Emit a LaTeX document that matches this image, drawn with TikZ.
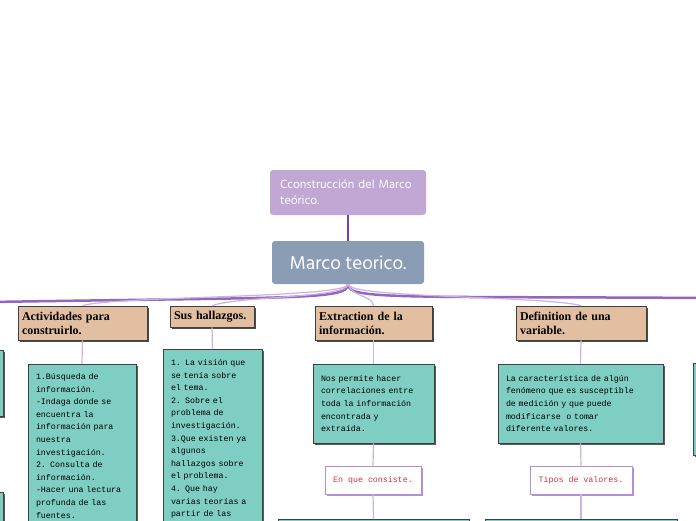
\documentclass[tikz,border=0pt]{standalone}
\usepackage{fontspec}
\usepackage{tikz}
\usetikzlibrary{positioning,shadows}
\newfontfamily\hindfont{Hind Siliguri}
\newfontfamily\notefont{Liberation Mono}
\newfontfamily\catfont{Liberation Serif}
\definecolor{toppurple}{HTML}{C1A7D4}
\definecolor{rootblue}{HTML}{8B9DB5}
\definecolor{cattan}{HTML}{E3BFA1}
\definecolor{infoteal}{HTML}{7FCEC3}
\definecolor{trunkpurple}{HTML}{9466BE}
\definecolor{stempurple}{HTML}{7A3FA6}
\definecolor{twigpurple}{HTML}{CBB3E2}
\definecolor{tagred}{HTML}{CC3348}
\definecolor{tagline}{HTML}{B48ED6}

\begin{document}
\begin{tikzpicture}[
    x=1pt, y=-1pt,
    topbox/.style={
        fill=toppurple,
        rounded corners=3pt,
        minimum width=156pt,
        minimum height=45pt,
        inner xsep=10pt,
        text width=136pt,
        align=left,
        text=white,
        font=\hindfont\fontsize{12.2}{16}\selectfont
    },
    rootbox/.style={
        fill=rootblue,
        rounded corners=3pt,
        minimum width=152pt,
        minimum height=43pt,
        align=center,
        text=white,
        font=\hindfont\fontsize{19}{22}\selectfont
    },
    catbox/.style={
        draw=black!75,
        fill=cattan,
        line width=0.8pt,
        drop shadow={shadow xshift=2pt,shadow yshift=-2pt,fill=black!70,opacity=1},
        inner xsep=4pt,
        align=left,
        font=\catfont\bfseries\fontsize{12}{14}\selectfont
    },
    infobox/.style={
        draw=black!75,
        fill=infoteal,
        line width=0.8pt,
        drop shadow={shadow xshift=2pt,shadow yshift=-2pt,fill=black!65,opacity=1},
        inner xsep=8pt,
        inner ysep=9pt,
        align=left,
        font=\notefont\fontsize{8.3}{12.6}\selectfont
    },
    tagbox/.style={
        draw=tagline,
        fill=white,
        line width=0.8pt,
        drop shadow={shadow xshift=2pt,shadow yshift=-2pt,fill=tagline,opacity=1},
        align=center,
        text=tagred,
        font=\notefont\fontsize{8.3}{12.5}\selectfont
    },
    trunk/.style={trunkpurple, line width=2.5pt},
    twig/.style={twigpurple, line width=1.2pt},
    stem/.style={stempurple, line width=1.5pt}
]
\useasboundingbox (0,0) rectangle (696,520);
\clip (0,0) rectangle (696,520);
\fill[white] (0,0) rectangle (696,520);

\node[topbox] (top) at (348,192.5)
{Cconstrucción del Marco\\ teórico.};

\node[rootbox] (root) at (348,262.5) {Marco teorico.};

\draw[stem] (top.south) -- (root.north);

\coordinate (farL) at (-10,302);
\coordinate (farR) at (706,298);

\node[catbox, minimum width=129pt, minimum height=34pt, text width=121pt] (catAct) at (82.5,323)
{Actividades para\\ construirlo.};
\node[catbox, minimum width=84pt, minimum height=21pt, text width=76pt] (catHal) at (212,316.5)
{Sus hallazgos.};
\node[catbox, minimum width=117pt, minimum height=34pt, text width=109pt] (catExt) at (373.5,323)
{Extraction de la\\ información.};
\node[catbox, minimum width=130pt, minimum height=34pt, text width=122pt] (catDef) at (581,323)
{Definition de una\\ variable.};

\draw[trunk] (root.south) .. controls (348,300) and (300,297) .. (farL);
\draw[trunk] (root.south) .. controls (348,300) and (400,296) .. (farR);
\draw[twig] (root.south) .. controls (348,298) and (115,296) .. (catAct.north);
\draw[twig] (root.south) .. controls (348,298) and (240,296) .. (catHal.north);
\draw[twig] (root.south) .. controls (352,297) and (372,295) .. (catExt.north);
\draw[twig] (root.south) .. controls (348,298) and (545,296) .. (catDef.north);

\node[infobox, anchor=north, minimum width=108pt, text width=92pt] (infoAct) at (82,364)
{1.Búsqueda de\\ información.\\ -Indaga donde se\\ encuentra la\\ información para\\ nuestra\\ investigación.\\ 2. Consulta de\\ información.\\ -Hacer una lectura\\ profunda de las\\ fuentes.\rule[-40pt]{0pt}{0pt}};
\node[infobox, anchor=north, inner ysep=10pt, minimum width=99pt, text width=83pt] (infoHal) at (212.5,349)
{1. La visión que\\ se tenía sobre\\ el tema.\\ 2. Sobre el\\ problema de\\ investigación.\\ 3.Que existen ya\\ algunos\\ hallazgos sobre\\ el problema.\\ 4. Que hay\\ varias teorías a\\ partir de las\rule[-40pt]{0pt}{0pt}};
\node[infobox, minimum width=121pt, minimum height=79pt, text width=105pt] (infoExt) at (373.5,403.5)
{Nos permite hacer\\ correlaciones entre\\ toda la información\\ encontrada y\\ extraída.};
\node[infobox, minimum width=165pt, minimum height=79pt, text width=149pt] (infoDef) at (580.5,403.5)
{La característica de algún\\ fenómeno que es susceptible\\ de medición y que puede\\ modificarse\ \ o tomar\\ diferente valores.};

\draw[twig] (catAct.south) -- (infoAct.north);
\draw[twig] (catHal.south) -- (infoHal.north);
\draw[twig] (catExt.south) -- (infoExt.north);
\draw[twig] (catDef.south) -- (infoDef.north);

\node[tagbox, minimum width=96pt, minimum height=28pt] (tagExt) at (373,480) {En que consiste.};
\node[tagbox, minimum width=102pt, minimum height=28pt] (tagDef) at (581,480) {Tipos de valores.};

\draw[twig] (infoExt.south) -- (tagExt.north);
\draw[twig] (infoDef.south) -- (tagDef.north);

\node[infobox, minimum width=191pt, minimum height=60pt] (subExt) at (373.5,549.5) {};
\node[infobox, minimum width=192pt, minimum height=60pt] (subDef) at (581,549.5) {};

\draw[twig] (tagExt.south) -- (subExt.north);
\draw[twig] (tagDef.south) -- (subDef.north);

\node[infobox, minimum width=103pt, minimum height=66pt] (edgeL1) at (-48.5,383) {};
\node[infobox, minimum width=103pt, minimum height=60pt] (edgeL2) at (-48.5,522) {};
\node[infobox, minimum width=103pt, minimum height=92pt] (edgeR1) at (744.5,409) {};

\end{tikzpicture}
\end{document}
